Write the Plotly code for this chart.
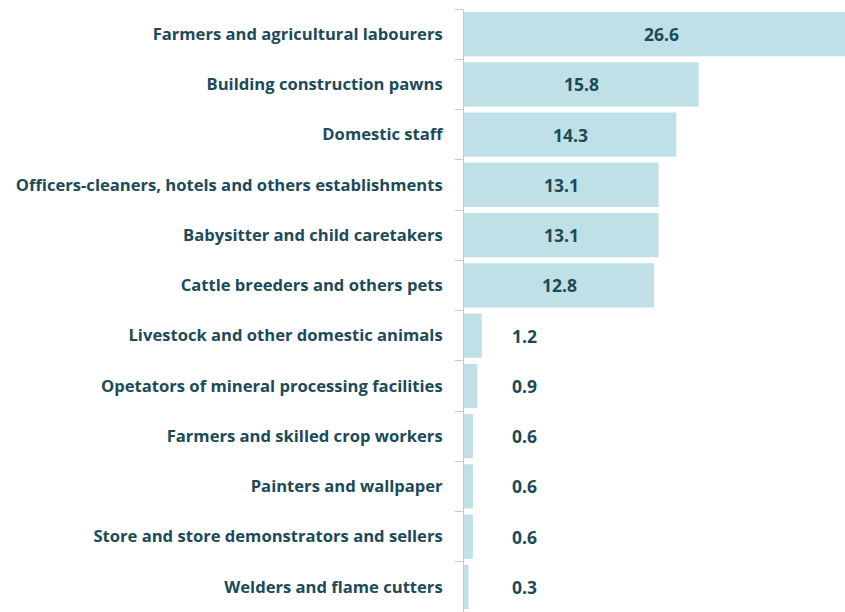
import plotly.graph_objects as go

categories = [
    "Farmers and agricultural labourers",
    "Building construction pawns",
    "Domestic staff",
    "Officers-cleaners, hotels and others establishments",
    "Babysitter and child caretakers",
    "Cattle breeders and others pets",
    "Livestock and other domestic animals",
    "Opetators of mineral processing facilities",
    "Farmers and skilled crop workers",
    "Painters and wallpaper",
    "Store and store demonstrators and sellers",
    "Welders and flame cutters",
]
values = [26.6, 15.8, 14.3, 13.1, 13.1, 12.8, 1.2, 0.9, 0.6, 0.6, 0.6, 0.3]

BAR = "#bfe0e6"
TEXT = "#1b4a59"
FONT = "Open Sans"

fig = go.Figure(
    go.Bar(
        x=values,
        y=categories,
        orientation="h",
        marker=dict(color=BAR, line=dict(width=0)),
        hoverinfo="skip",
    )
)

# value labels: centred inside long bars, in a fixed column beside short ones
annotations = []
for cat, v in zip(categories, values):
    xpos = v / 2 if v > 5 else 4.1
    annotations.append(
        dict(
            x=xpos, y=cat, xref="x", yref="y",
            text=f"<b>{v:.1f}</b>", showarrow=False,
            xanchor="center", yanchor="middle",
            font=dict(family=FONT, size=17.5, color=TEXT),
        )
    )

fig.update_layout(
    width=845,
    height=612,
    margin=dict(l=464, r=0, t=9, b=0),
    paper_bgcolor="white",
    plot_bgcolor="white",
    bargap=0.12,
    showlegend=False,
    annotations=annotations,
    xaxis=dict(
        range=[0, 25.66],
        showgrid=False,
        zeroline=False,
        showticklabels=False,
        showline=False,
        fixedrange=True,
    ),
    yaxis=dict(
        autorange="reversed",
        showgrid=False,
        zeroline=False,
        showline=True,
        linecolor="#c8c8c8",
        linewidth=1,
        ticks="outside",
        tickson="boundaries",
        ticklen=8,
        tickcolor="#c8c8c8",
        tickwidth=1,
        ticklabelstandoff=17,
        tickfont=dict(family=FONT, size=16.6, color=TEXT, weight="bold"),
        fixedrange=True,
    ),
)

fig.write_html("out.html", config=dict(displayModeBar=False))
